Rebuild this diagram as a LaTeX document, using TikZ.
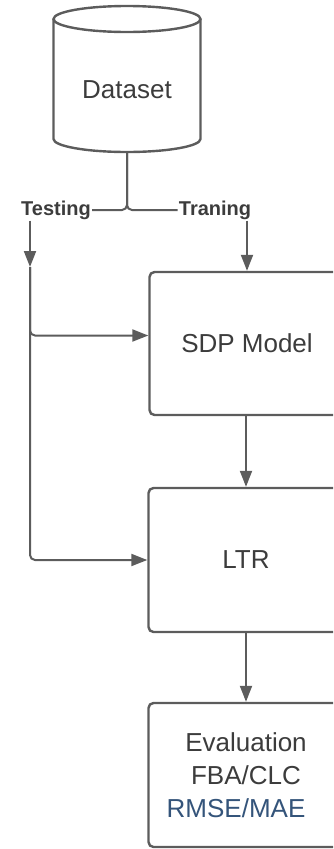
\documentclass[tikz,border=0pt]{standalone}
\usepackage{fontspec}
\setmainfont{Liberation Sans}
\usetikzlibrary{positioning,arrows.meta}
\definecolor{lineGray}{RGB}{92,92,92}
\definecolor{textGray}{RGB}{60,60,60}
\definecolor{metricBlue}{RGB}{52,84,122}
\tikzset{
	flowBox/.style={draw=lineGray, line width=2.4pt, rounded corners=5pt, fill=white,
		minimum width=195pt, text=textGray, font=\fontsize{26}{33}\selectfont},
	splitLabel/.style={text=textGray, font=\fontsize{20}{24}\selectfont\bfseries, inner sep=1pt},
	flowArrow/.style={draw=lineGray, line width=2pt, -{Triangle[length=16pt,width=12pt]}},
	flowLine/.style={draw=lineGray, line width=2pt, rounded corners=5pt}
}

\begin{document}
\begin{tikzpicture}[x=1pt,y=-1pt]
	\useasboundingbox (0,0) rectangle (333,849);
	\clip (0,0) rectangle (333,849);
	% store
	\draw[lineGray, line width=2.4pt] (127,19) ellipse [x radius=73.5, y radius=13];
	\draw[lineGray, line width=2.4pt] (53.5,19) -- (53.5,139)
		arc[start angle=180, end angle=0, x radius=73.5, y radius=13] -- (200.5,19);
	\node[text=textGray, font=\fontsize{26}{33}\selectfont] (dataset) at (127,90) {Dataset};
	\coordinate (datasetOut) at (127,152);
	\node[splitLabel] (testing) at (56,210) {Testing};
	\node[splitLabel] (traning) at (215,210) {Traning};
	% blocks
	\node[flowBox, minimum height=143pt] (sdp) at (247,343.5) {SDP Model};
	\node[flowBox, minimum height=144pt] (ltr) at (246,560) {LTR};
	\node[flowBox, minimum height=144pt, align=center] (eval) at (246,775)
		{Evaluation\\FBA/CLC\\\textcolor{metricBlue}{RMSE/MAE}\hspace*{20pt}};
	\coordinate (testIn) at (30,267);
	% split
	\draw[flowLine] (datasetOut) |- (testing.east);
	\draw[flowLine] (datasetOut) |- (traning.west);
	\draw[flowArrow] (testing.south -| testIn) -- (testIn);
	\draw[flowArrow] (traning.south -| sdp.north) -- (sdp.north);
	\draw[flowArrow, rounded corners=5pt] (testIn) |- ([yshift=8pt]sdp.west);
	\draw[flowArrow, rounded corners=5pt] (testIn) |- (ltr.west);
	\draw[flowArrow] (sdp.south -| ltr.north) -- (ltr.north);
	\draw[flowArrow] (ltr.south) -- (eval.north);
\end{tikzpicture}
\end{document}
